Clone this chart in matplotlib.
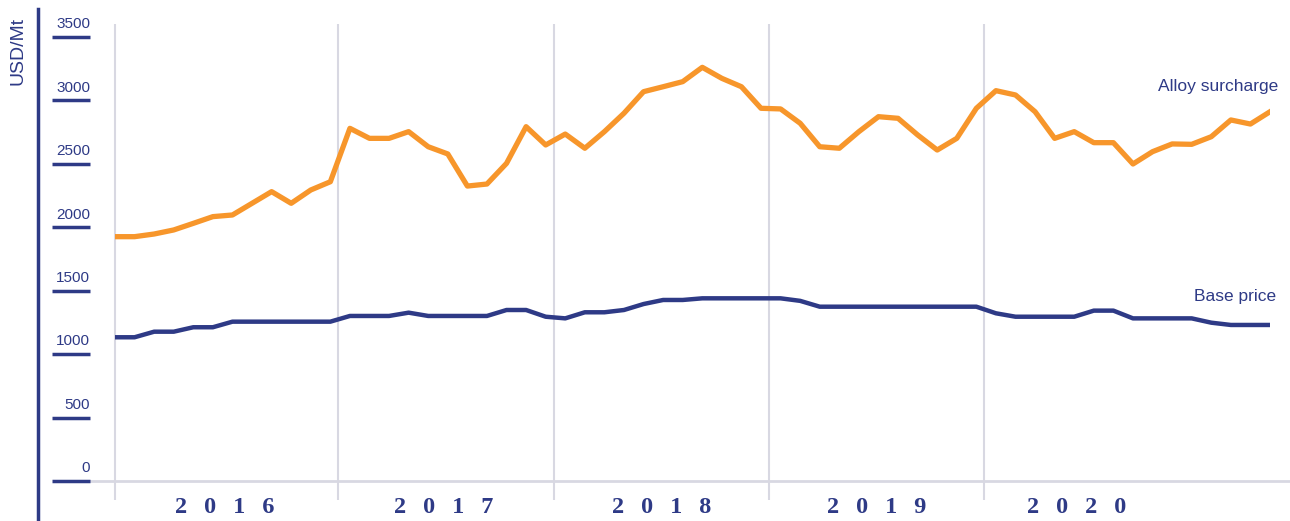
import numpy as np
import matplotlib.pyplot as plt
import matplotlib.transforms as mtransforms

# monthly prices, Jan 2016 - Dec 2020 (USD/Mt)
alloy = [1926, 1926, 1947, 1979, 2031, 2084, 2097, 2189, 2281, 2189, 2294, 2359,
         2780, 2701, 2701, 2754, 2635, 2578, 2325, 2341, 2504, 2793, 2649, 2735,
         2623, 2754, 2899, 3069, 3108, 3148, 3261, 3174, 3108, 2938, 2933, 2820,
         2635, 2623, 2754, 2872, 2859, 2728, 2609, 2701, 2938, 3077, 3043, 2911,
         2701, 2754, 2667, 2667, 2499, 2596, 2657, 2654, 2714, 2846, 2814, 2911]
base = [1133, 1133, 1177, 1177, 1212, 1212, 1256, 1256, 1256, 1256, 1256, 1256,
        1301, 1301, 1301, 1327, 1301, 1301, 1301, 1301, 1348, 1348, 1295, 1282,
        1330, 1330, 1348, 1395, 1427, 1427, 1440, 1440, 1440, 1440, 1440, 1420,
        1374, 1374, 1374, 1374, 1374, 1374, 1374, 1374, 1374, 1322, 1295, 1295,
        1295, 1295, 1343, 1343, 1282, 1282, 1282, 1282, 1248, 1230, 1230, 1230]
years = ['2016', '2017', '2018', '2019', '2020']
yticks = [0, 500, 1000, 1500, 2000, 2500, 3000, 3500]

NAVY = '#2e3a86'
ORANGE = '#f7962b'
GRID = '#d8d8e2'

W, H = 1290, 521
fig = plt.figure(figsize=(W / 100, H / 100), dpi=100)
# plot area: first month at x=115px, last at x=1270px, 0 at y=481px, 3500 at y=37px
ax = fig.add_axes([115 / W, (H - 481) / H, 1155 / W, 444 / H])
ax.set_xlim(0, len(alloy) - 1)
ax.set_ylim(0, 3500)
ax.axis('off')


def fx(px):
    return (px - 115) / 1155


trans = mtransforms.blended_transform_factory(ax.transAxes, ax.transData)

# year separators and labels
year_starts = [0, 11.4, 22.4, 33.4, 44.4]
label_pos = [5.6, 16.8, 27.9, 38.9, 49.1]
ax.vlines(year_starts, -150, 3600, color=GRID, lw=1.5, clip_on=False, zorder=1)
for pos, yr in zip(label_pos, years):
    ax.text(pos, -128, '\u2002\u2009'.join(yr), ha='center', va='top',
            family='Liberation Serif', weight='bold', fontsize=17.5, color=NAVY,
            clip_on=False)

# baseline
ax.plot([fx(90), fx(W)], [0, 0], transform=trans, color=GRID, lw=2,
        clip_on=False, zorder=1)

# y axis with detached tick bars
ax.plot([fx(38), fx(38)], [-500, 3720], transform=trans, color=NAVY, lw=2.5,
        clip_on=False)
for v in yticks:
    ax.plot([fx(52), fx(90)], [v, v], transform=trans, color=NAVY, lw=2.5,
            clip_on=False, solid_capstyle='butt')
    ax.text(fx(90), v + 45, str(v), transform=trans, ha='right', va='bottom',
            family='Liberation Sans', fontsize=11, color=NAVY)

fig.text(18 / W, 1 - 51 / H, 'USD/Mt', rotation=90, ha='center', va='center',
         family='Liberation Sans', fontsize=14, color=NAVY)

# series
x = np.arange(len(alloy))
ax.plot(x, alloy, color=ORANGE, lw=3.8, solid_joinstyle='round', zorder=3)
ax.plot(x, base, color=NAVY, lw=3.2, solid_joinstyle='round', zorder=3)

ax.text(fx(1278), 3106, 'Alloy surcharge', transform=trans, ha='right',
        va='center', family='Liberation Sans', fontsize=12.5, color=NAVY)
ax.text(fx(1276), 1458, 'Base price', transform=trans, ha='right',
        va='center', family='Liberation Sans', fontsize=12.5, color=NAVY)

fig.savefig('out.png', dpi=100)
